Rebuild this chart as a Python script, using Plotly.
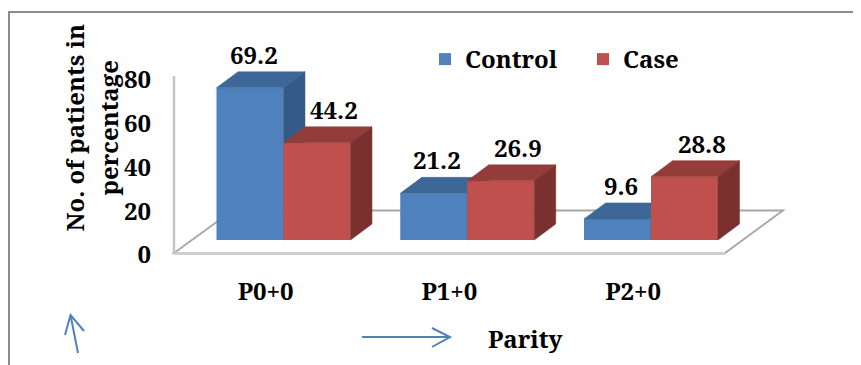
import plotly.graph_objects as go

# ---------------- data ----------------
categories = ["P0+0", "P1+0", "P2+0"]
series_names = ["Control", "Case"]
control_values = [69.2, 21.2, 9.6]
case_values = [44.2, 26.9, 28.8]
tick_values = [0, 20, 40, 60, 80]
tick_labels = ["0", "20", "40", "60", "80"]
x_title = "Parity"
y_title_lines = ["No. of patients in", "percentage"]

# ---------------- geometry / style ----------------
PAGE_OFF = 8                      # browser body margin
W, H = 861 - PAGE_OFF, 365 - PAGE_OFF
FONT = "Noto Serif, DejaVu Serif"
FS = 24
X0_PX, CAT_PX = 283.5, 183.75
BASE_PX, VAL_PX = 240.0, 2.2
TICK0_PX, TICK_VAL_PX = 255.0, 2.1875
DEPTH_X_PX, DEPTH_Y_PX = 21.5, 16.0
BAR_PX = 67.0

BW = BAR_PX / CAT_PX
DX = DEPTH_X_PX / CAT_PX
DY = DEPTH_Y_PX / VAL_PX
x_range = [(PAGE_OFF - X0_PX) / CAT_PX, (PAGE_OFF + W - X0_PX) / CAT_PX]
y_range = [(BASE_PX - PAGE_OFF - H) / VAL_PX, (BASE_PX - PAGE_OFF) / VAL_PX]
y3_range = [(TICK0_PX - PAGE_OFF - H) / TICK_VAL_PX, (TICK0_PX - PAGE_OFF) / TICK_VAL_PX]

styles = {
    "Control": dict(front="#4F81BD", top="#3D6797", side="#345B88",
                    offset=-BW, label_dx=0.02, xa="x", ya="y"),
    "Case": dict(front="#C0504D", top="#943C3A", side="#7A302E",
                 offset=0.0, label_dx=0.095, xa="x2", ya="y2"),
}
values = {"Control": control_values, "Case": case_values}


def P(px, py):
    return (px - PAGE_OFF) / W, 1 - (py - PAGE_OFF) / H


def path(points, close=False):
    s = ""
    for k, (px, py) in enumerate(points):
        x, y = P(px, py)
        s += ("M" if k == 0 else "L") + f"{x:.5f},{y:.5f} "
    return s + ("Z" if close else "")


bold = dict(family=FONT, size=FS, color="black", weight="bold")

fig = go.Figure()
annotations = []

for name in series_names:
    st = styles[name]
    vals = values[name]
    idx = list(range(len(categories)))
    fig.add_trace(go.Bar(
        x=idx, y=vals, name=name, offset=st["offset"], width=BW,
        marker=dict(color=st["front"], line=dict(width=0)),
        xaxis=st["xa"], yaxis=st["ya"], showlegend=True,
    ))
    for i, v in zip(idx, vals):
        left = i + st["offset"]
        right = left + BW
        # top face
        fig.add_trace(go.Scatter(
            x=[left, right, right + DX, left + DX, left],
            y=[v, v, v + DY, v + DY, v],
            mode="lines", fill="toself", fillcolor=st["top"],
            line=dict(width=0.5, color=st["top"]), hoverinfo="skip",
            showlegend=False, xaxis=st["xa"], yaxis=st["ya"],
        ))
        # side face
        fig.add_trace(go.Scatter(
            x=[right, right + DX, right + DX, right, right],
            y=[0, DY, v + DY, v, 0],
            mode="lines", fill="toself", fillcolor=st["side"],
            line=dict(width=0.5, color=st["side"]), hoverinfo="skip",
            showlegend=False, xaxis=st["xa"], yaxis=st["ya"],
        ))
        annotations.append(dict(
            x=left + BW / 2 + st["label_dx"], y=v, xref="x", yref="y",
            yshift=33.5, text=f"{v:.1f}", showarrow=False, font=bold,
            xanchor="center", yanchor="middle",
        ))

# dummy trace so the tick axis is drawn
fig.add_trace(go.Scatter(x=[None], y=[None], xaxis="x", yaxis="y3",
                         showlegend=False, hoverinfo="skip"))

# y title (two centred lines)
for k, line in enumerate(y_title_lines):
    xc = [74, 108][k]
    px, py = P(xc, 128.5)
    annotations.append(dict(
        x=px, y=py, xref="paper", yref="paper", text=line, textangle=-90,
        showarrow=False, xanchor="center", yanchor="middle", font=bold,
    ))

px, py = P(525, 338)
annotations.append(dict(
    x=px, y=py, xref="paper", yref="paper", text=x_title, showarrow=False,
    xanchor="center", yanchor="middle", font=bold,
))

# ---------------- shapes ----------------
shapes = []
frame = "#8C8C8C"
shapes.append(dict(type="path", xref="paper", yref="paper",
                   path=path([(9, 366), (9, 12), (862, 12)]),
                   line=dict(color=frame, width=2), layer="below"))
floor_pts = [(174, 253), (725, 253), (783, 210.5), (232.5, 210.5)]
shapes.append(dict(type="path", xref="paper", yref="paper",
                   path=path(floor_pts, close=True), fillcolor="white",
                   line=dict(color="#A6A6A6", width=1.8), layer="below"))
shapes.append(dict(type="path", xref="paper", yref="paper",
                   path=path([(174, 253.5), (725, 253.5)]),
                   line=dict(color="#CFCFCF", width=3), layer="below"))
shapes.append(dict(type="path", xref="paper", yref="paper",
                   path=path([(174, 76), (174, 253)]),
                   line=dict(color="#C4C4C4", width=2.5), layer="below"))
arrow = "#4F81BD"
for pts in [
    [(78, 353), (70.5, 315)],
    [(65, 335), (70.5, 315), (84, 331)],
    [(362, 337), (450, 337)],
    [(432, 328), (450, 337), (432, 347)],
]:
    shapes.append(dict(type="path", xref="paper", yref="paper", path=path(pts),
                       line=dict(color=arrow, width=2), layer="above"))

lx, ly = P(425, 37)
fig.update_layout(
    width=W, height=H, autosize=False,
    margin=dict(l=0, r=0, t=0, b=0, pad=0),
    paper_bgcolor="white", plot_bgcolor="rgba(0,0,0,0)",
    barmode="overlay",
    xaxis=dict(range=x_range, showgrid=False, zeroline=False, showline=False,
               ticks="", tickmode="array",
               tickvals=[i - 0.097 for i in range(len(categories))],
               ticktext=categories, anchor="free",
               position=P(0, 275)[1], tickfont=bold, fixedrange=True),
    yaxis=dict(range=y_range, visible=False, fixedrange=True),
    xaxis2=dict(range=x_range, overlaying="x", matches="x", visible=False),
    yaxis2=dict(range=y_range, overlaying="y", matches="y", visible=False),
    yaxis3=dict(range=y3_range, overlaying="y", anchor="free",
                position=P(151, 0)[0], side="left", showgrid=False,
                zeroline=False, showline=False, ticks="", tickmode="array",
                tickvals=tick_values, ticktext=tick_labels, tickfont=bold,
                fixedrange=True),
    legend=dict(orientation="h", x=lx, y=ly, xanchor="left", yanchor="top",
                bgcolor="rgba(0,0,0,0)", font=bold,
                entrywidth=113, entrywidthmode="pixels"),
    annotations=annotations,
    shapes=shapes,
    showlegend=True,
)

fig.write_html("out.html")
